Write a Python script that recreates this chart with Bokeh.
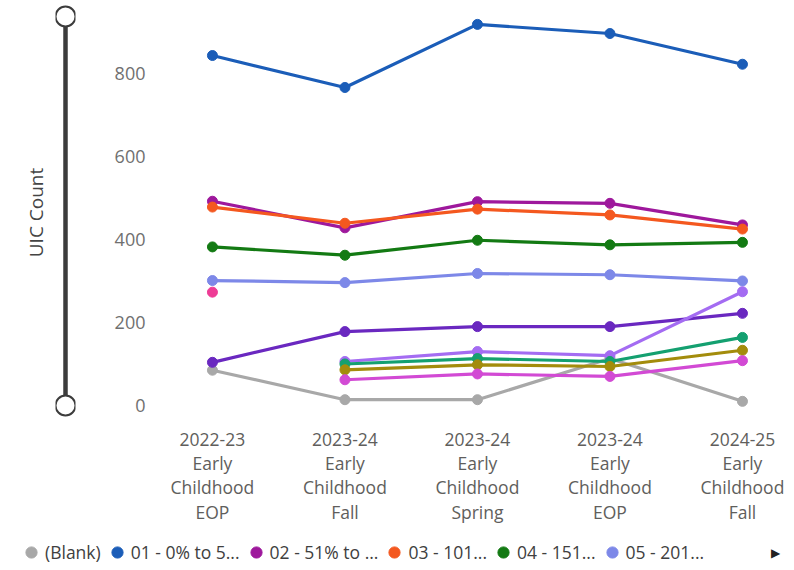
from bokeh.plotting import figure
from bokeh.layouts import column, row
from bokeh.models import (ColumnDataSource, FixedTicker, Range1d, Legend,
                          LegendItem, Label)
from bokeh.embed import file_html
from bokeh.resources import INLINE

nan = float("nan")

# ---------------- data ----------------
periods = [
    "2022-23\nEarly\nChildhood\nEOP",
    "2023-24\nEarly\nChildhood\nFall",
    "2023-24\nEarly\nChildhood\nSpring",
    "2023-24\nEarly\nChildhood\nEOP",
    "2024-25\nEarly\nChildhood\nFall",
]
y_ticks = [0, 200, 400, 600, 800]
y_max = 937

blank = [85, 14, 14, 113, 10]
s01 = [843, 766, 918, 896, 822]
s02 = [492, 428, 491, 487, 435]
s03 = [478, 439, 473, 459, 425]
s04 = [382, 362, 398, 387, 393]
s05 = [301, 296, 318, 315, 300]
s06 = [104, 178, 190, 190, 222]
s07 = [273, nan, nan, nan, nan]
s08 = [nan, 106, 130, 120, 274]
s09 = [nan, 100, 113, 106, 164]
s10 = [nan, 86, 98, 94, 133]
s11 = [nan, 62, 76, 70, 108]

series_labels = ["(Blank)", "01 - 0% to 5...", "02 - 51% to ...", "03 - 101...",
                 "04 - 151...", "05 - 201...", "06", "07", "08", "09", "10", "11"]
series_values = [blank, s01, s02, s03, s04, s05, s06, s07, s08, s09, s10, s11]
series_colors = ["#A8A8A8", "#1B5DB8", "#9E189C", "#F4581F", "#137A13", "#7D88E8",
                 "#6A28C0", "#EE3C96", "#A46CF2", "#14A070", "#A38C0C", "#D24AD4"]
legend_count = 6

FONT = "Open Sans"

# shared vertical scale: frame from 4 px to 420 px, value 0 at 405 px, y_max at 16 px
scale = (405 - 16) / y_max
y_range = Range1d(-(420 - 405) / scale, y_max + (16 - 4) / scale)

# ---------------- main chart ----------------
MAIN_W, MAIN_H = 696, 528
p = figure(width=MAIN_W, height=MAIN_H,
           x_range=Range1d(-0.392, 4.355), y_range=y_range,
           output_backend="svg", toolbar_location=None,
           min_border_left=62, min_border_right=5, min_border_top=4,
           min_border_bottom=MAIN_H - 420)
p.outline_line_color = None
p.xgrid.visible = False
p.ygrid.visible = False

xs = list(range(len(periods)))
for lab, vals, col in zip(series_labels, series_values, series_colors):
    src = ColumnDataSource(dict(x=xs, y=vals))
    p.line("x", "y", source=src, line_color=col, line_width=3.2)
    p.scatter("x", "y", source=src, size=10, fill_color=col, line_color=col)

p.yaxis.ticker = FixedTicker(ticks=y_ticks)
p.yaxis.axis_line_color = None
p.yaxis.major_tick_line_color = None
p.yaxis.minor_tick_line_color = None
p.yaxis.major_label_standoff = 9
p.yaxis.major_label_text_font = FONT
p.yaxis.major_label_text_font_size = "18px"
p.yaxis.major_label_text_color = "#707070"

p.xaxis.ticker = FixedTicker(ticks=xs)
p.xaxis.major_label_overrides = {i: lab for i, lab in enumerate(periods)}
p.xaxis.axis_line_color = None
p.xaxis.major_tick_line_color = None
p.xaxis.minor_tick_line_color = None
p.xaxis.major_label_standoff = 0
p.xaxis.major_label_text_font = FONT
p.xaxis.major_label_text_font_size = "17.5px"
p.xaxis.major_label_text_color = "#605E5C"
p.xaxis.major_label_text_line_height = 1.02

# ---------------- zoom slider + axis title ----------------
SL_W = 98
sl = figure(width=SL_W, height=MAIN_H,
            x_range=Range1d(0, 1), y_range=y_range,
            output_backend="svg", toolbar_location=None,
            min_border_left=55, min_border_right=SL_W - 75, min_border_top=4,
            min_border_bottom=MAIN_H - 420)
sl.outline_line_color = None
sl.xgrid.visible = False
sl.ygrid.visible = False
sl.xaxis.visible = False
sl.yaxis.ticker = FixedTicker(ticks=[])
sl.yaxis.axis_line_color = None
sl.yaxis.major_tick_line_color = None
sl.yaxis.minor_tick_line_color = None
sl.yaxis.major_label_text_font_size = "0px"
sl.yaxis.axis_label = "UIC Count"
sl.yaxis.axis_label_standoff = 7
sl.yaxis.axis_label_text_font = FONT
sl.yaxis.axis_label_text_font_size = "19px"
sl.yaxis.axis_label_text_font_style = "normal"
sl.yaxis.axis_label_text_color = "#444444"

slider_ends = [0, y_max]
sl.line(x=[0.5, 0.5], y=slider_ends, line_color="#3C3C3C", line_width=4.5)
sl.scatter(x=[0.5, 0.5], y=slider_ends, size=20, fill_color="white",
           line_color="#3C3C3C", line_width=2)

# ---------------- legend strip ----------------
LG_W, LG_H = 794, 38
lg = figure(width=LG_W, height=LG_H, x_range=Range1d(0, LG_W), y_range=Range1d(0, LG_H),
            output_backend="svg", toolbar_location=None,
            min_border_left=0, min_border_right=0, min_border_top=0, min_border_bottom=0)
lg.outline_line_color = None
lg.xgrid.visible = False
lg.ygrid.visible = False
lg.xaxis.visible = False
lg.yaxis.visible = False

items = []
for lab, col in zip(series_labels[:legend_count], series_colors[:legend_count]):
    r = lg.scatter(x=[-100], y=[-100], fill_color=col, line_color=col)
    items.append(LegendItem(label=lab, renderers=[r]))
legend = Legend(items=items, orientation="horizontal", location=(17, 0),
                glyph_width=28, glyph_height=28, label_standoff=0, spacing=2,
                padding=0, margin=0, border_line_color=None,
                background_fill_alpha=0,
                label_text_font=FONT, label_text_font_size="17.5px",
                label_text_color="#404040")
lg.add_layout(legend)
lg.add_layout(Label(x=775, y=14, text="▶", text_align="center",
                    text_baseline="middle", text_font="DejaVu Sans",
                    text_font_size="12px", text_color="#222222"))

layout = column(row(sl, p), lg)
open("out.html", "w").write(file_html(layout, INLINE))
